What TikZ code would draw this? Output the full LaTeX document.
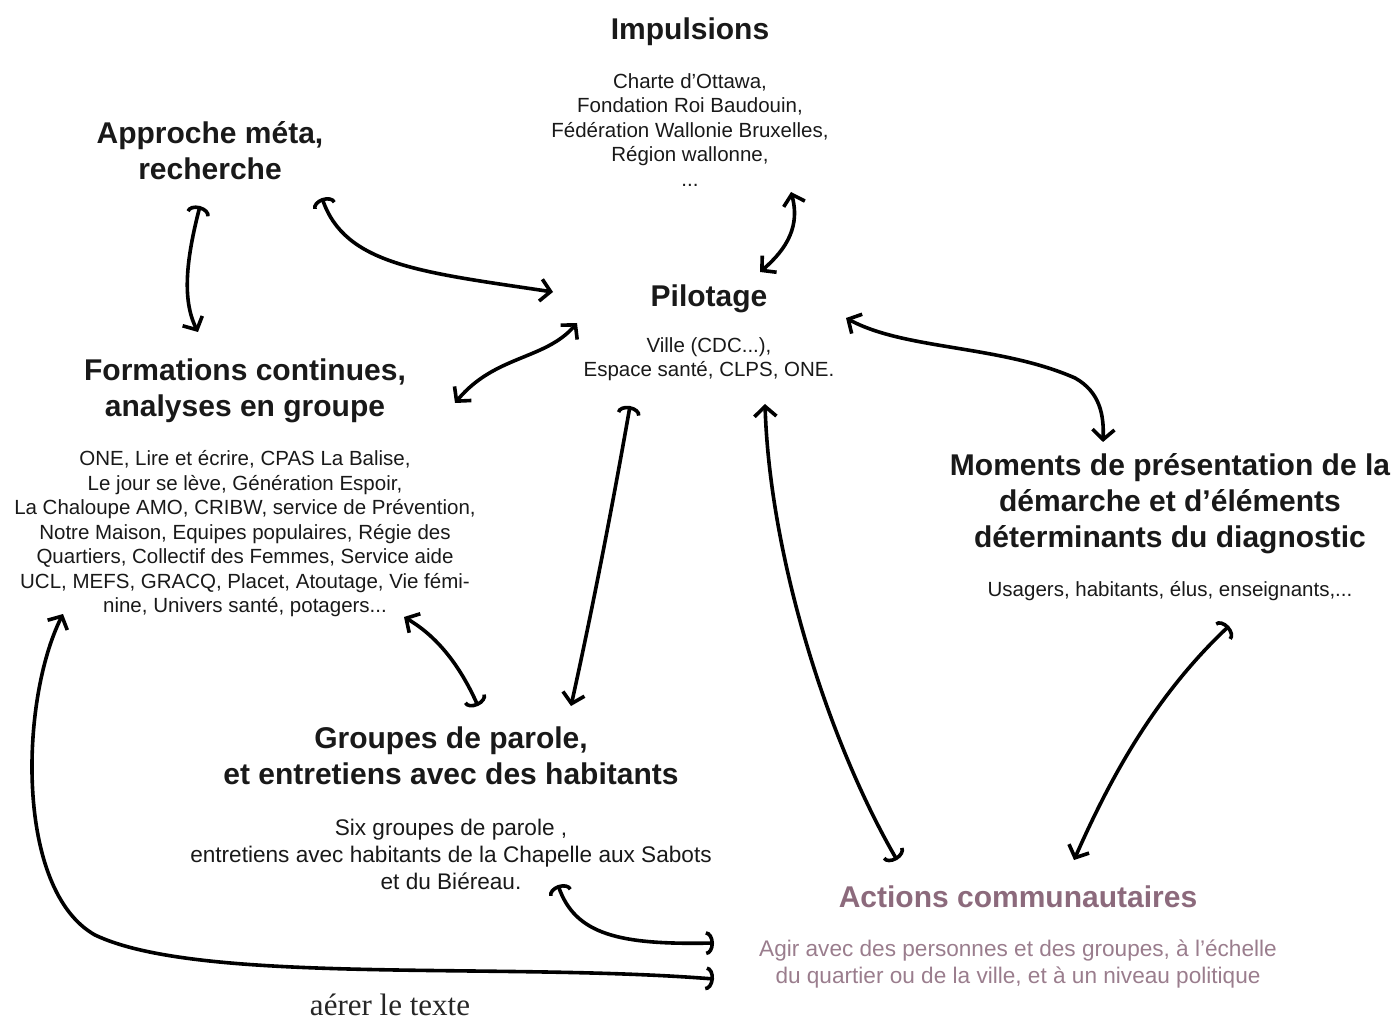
\documentclass[tikz,border=0pt]{standalone}
\usepackage{fontspec}
\setmainfont{Liberation Sans}
\newfontfamily\serifnote{Liberation Serif}
\usetikzlibrary{arrows.meta}
\definecolor{mauve}{HTML}{8C6A7C}
\definecolor{mauvelight}{HTML}{9A7D8D}
\tikzset{
  ttl/.style={font=\fontsize{15}{18}\selectfont\bfseries, align=center, inner sep=0pt, text=black!90},
  body/.style={font=\fontsize{10.25}{12.25}\selectfont, align=center, inner sep=0pt, text=black!90},
  bodybig/.style={body, font=\fontsize{11.3}{13.5}\selectfont},
  conn/.style={line width=1.8pt, line cap=round, line join=round},
  V/.tip={Straight Barb[length=5pt,width=11pt]},
  H/.tip={Arc Barb[length=4pt,width=12pt]}
}
\begin{document}
\begin{tikzpicture}[x=0.5pt,y=-0.5pt]
\useasboundingbox (0,0) rectangle (1400,1020);
% texts
\node[ttl] (imp) at (690,32) {Impulsions};
\node[body] (impb) at (690,130) {Charte d’Ottawa,\\Fondation Roi Baudouin,\\Fédération Wallonie Bruxelles,\\Région wallonne,\\...};
\node[ttl] (app) at (210,151) {Approche méta,\\recherche};
\node[ttl] (pil) at (709,299) {Pilotage};
\node[body] (pilb) at (709,359) {Ville (CDC...),\\Espace santé, CLPS, ONE.};
\node[ttl] (form) at (245,391) {Formations continues,\\analyses en groupe};
\node[body] (formb) at (245,534) {ONE, Lire et écrire, CPAS La Balise,\\Le jour se lève, Génération Espoir,\\La Chaloupe AMO, CRIBW, service de Prévention,\\Notre Maison, Equipes populaires, Régie des\\Quartiers, Collectif des Femmes, Service aide\\UCL, MEFS, GRACQ, Placet, Atoutage, Vie fémi-\\nine, Univers santé, potagers...};
\node[ttl] (mom) at (1170,504) {Moments de présentation de la\\démarche et d’éléments\\déterminants du diagnostic};
\node[body] (momb) at (1170,591) {Usagers, habitants, élus, enseignants,...};
\node[ttl] (grp) at (451,756) {Groupes de parole,\\et entretiens avec des habitants};
\node[bodybig] (grpb) at (451,854) {Six groupes de parole ,\\entretiens avec habitants de la Chapelle aux Sabots\\et du Biéreau.};
\node[ttl, text=mauve] (act) at (1018,897) {Actions communautaires};
\node[bodybig, text=mauvelight] (actb) at (1018,964) {Agir avec des personnes et des groupes, à l’échelle\\du quartier ou de la ville, et à un niveau politique};
\node[inner sep=0pt, font=\serifnote\fontsize{15.5}{18}\selectfont, text=black!85] (note) at (390,1005) {aérer le texte};
% connector end points
\coordinate (a1) at (322,198); \coordinate (p1) at (553,292);
\coordinate (a2) at (200,206); \coordinate (f2) at (198,332);
\coordinate (p3) at (760,272); \coordinate (i3) at (791,192);
\coordinate (f4) at (455,403); \coordinate (p4) at (577,323);
\coordinate (p5) at (846,318); \coordinate (m5) at (1103,442);
\coordinate (p6) at (630,406); \coordinate (g6) at (571,706);
\coordinate (f7) at (404,617); \coordinate (g7) at (478,706);
\coordinate (c8) at (897,860); \coordinate (p8) at (765,404);
\coordinate (m9) at (1229,626); \coordinate (c9) at (1074,860);
\coordinate (g10) at (558,885); \coordinate (c10) at (714,943);
\coordinate (f11) at (63,614); \coordinate (c11) at (714,979);
% connectors
\draw[conn, {H}-{V}] (a1) .. controls (345,265) and (420,272) .. (p1);
\draw[conn, {H}-{V}] (a2) .. controls (186,260) and (182,300) .. (f2);
\draw[conn, {V}-{V}] (p3) .. controls (788,248) and (800,225) .. (i3);
\draw[conn, {V}-{V}] (f4) .. controls (495,355) and (545,360) .. (p4);
\draw[conn, {V}-{V}] (p5) .. controls (905,350) and (1000,345) .. (1075,378) .. controls (1100,392) and (1104,415) .. (m5);
\draw[conn, {H}-{V}] (p6) .. controls (610,520) and (590,620) .. (g6);
\draw[conn, {V}-{H}] (f7) .. controls (440,638) and (462,670) .. (g7);
\draw[conn, {H}-{V}] (c8) .. controls (830,745) and (770,560) .. (p8);
\draw[conn, {H}-{V}] (m9) .. controls (1150,700) and (1105,790) .. (c9);
\draw[conn, {H}-{H}] (g10) .. controls (575,935) and (620,945) .. (c10);
\draw[conn, {V}-{H}] (f11) .. controls (20,700) and (15,890) .. (95,935) .. controls (200,985) and (500,962) .. (c11);
\end{tikzpicture}
\end{document}
